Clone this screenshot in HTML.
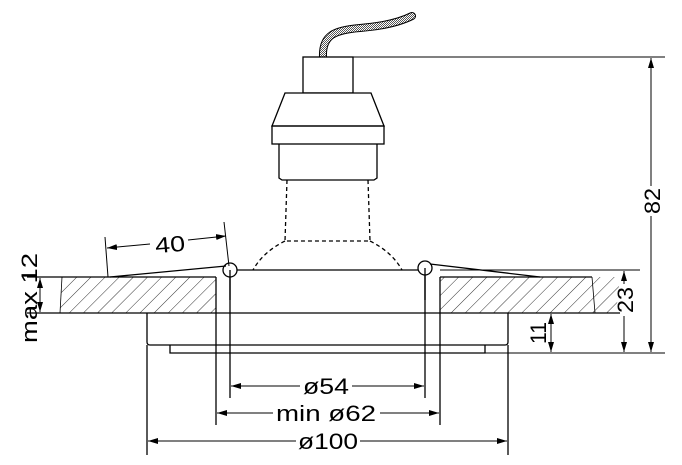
<!DOCTYPE html>
<html><head><meta charset="utf-8"><style>
html,body{margin:0;padding:0;background:#fff;}
svg{display:block}
text{font-family:"Liberation Sans",sans-serif;fill:#000;}
</style></head><body>
<svg width="682" height="465" viewBox="0 0 682 465" xmlns="http://www.w3.org/2000/svg">
<defs>
<pattern id="h" patternUnits="userSpaceOnUse" width="10" height="10" patternTransform="rotate(45)">
<line x1="0" y1="0" x2="0" y2="10" stroke="#000" stroke-width="0.8"/>
</pattern>
<pattern id="c" patternUnits="userSpaceOnUse" width="2" height="2">
<rect width="2" height="2" fill="#fff"/><rect width="1" height="1" fill="#555"/><rect x="1" y="1" width="1" height="1" fill="#555"/>
</pattern>
<marker id="a" viewBox="0 0 10 6" refX="10" refY="3" markerWidth="10" markerHeight="6" orient="auto-start-reverse" markerUnits="userSpaceOnUse">
<path d="M0,0 L10,3 L0,6 z" fill="#000"/>
</marker>
</defs>
<g fill="none" stroke="#000" stroke-width="1.3">
<!-- cable -->
<path d="M323,57 C322,35 335,30 360,28 C385,26 400,22 412,16" stroke="#000" stroke-width="8" stroke-linecap="round"/>
<path d="M323,57 C322,35 335,30 360,28 C385,26 400,22 412,16" stroke="url(#c)" stroke-width="6" stroke-linecap="round"/>
<!-- socket -->
<rect x="303" y="57" width="50" height="36" fill="#fff"/>
<path d="M285,93 L371,93 L384,126 L272,126 Z" fill="#fff"/>
<rect x="272" y="126" width="112" height="18"/>
<path d="M279,144 L279,178 L282,180 L374,180 L377,178 L377,144"/>
<path d="M287,180 L285,241 L370,241 L368,180 M285,241 Q263,252 253,270 M370,241 Q392,252 402,270" stroke-dasharray="4,3"/>
<!-- slabs -->
<path d="M62,277 L216,277 L216,313 L60,313 L62,277 Z" fill="url(#h)" stroke="none"/>
<path d="M440,277 L620,277 L616,313 L440,313 Z" fill="url(#h)" stroke="none"/>
<line x1="27" y1="277" x2="216" y2="277"/>
<line x1="27" y1="313" x2="147" y2="313"/>
<line x1="508" y1="313" x2="620" y2="313"/>
<line x1="216" y1="277" x2="216" y2="313"/>
<line x1="440" y1="277" x2="440" y2="313"/>
<line x1="440" y1="277" x2="592" y2="277"/>
<line x1="62" y1="277" x2="60" y2="313" stroke-width="0.8"/>
<line x1="592" y1="277" x2="595" y2="313" stroke-width="0.8"/>
<!-- trim -->
<path d="M147,313 L147,342 Q147,345 150,345 L505,345 Q508,345 508,342 L508,313"/>
<line x1="147" y1="313" x2="508" y2="313"/>
<path d="M170,345 L170,353 L485,353 L485,345"/>
<!-- lamp body -->
<line x1="230" y1="270" x2="425" y2="270"/>
<line x1="230" y1="270" x2="230" y2="398"/>
<line x1="425" y1="268" x2="425" y2="398"/>
<line x1="216" y1="313" x2="216" y2="425"/>
<line x1="440" y1="313" x2="440" y2="425"/>
<line x1="147" y1="345" x2="147" y2="455"/>
<line x1="508" y1="345" x2="508" y2="455"/>
<circle cx="230" cy="270" r="7" fill="#fff"/>
<circle cx="425" cy="268" r="7" fill="#fff"/>
<line x1="230" y1="270" x2="230" y2="300"/>
<line x1="425" y1="268" x2="425" y2="300"/>
<!-- springs -->
<line x1="110" y1="277" x2="226" y2="266"/>
<line x1="430" y1="264" x2="540" y2="277"/>
<!-- 40 dim -->
<g stroke-width="1">
<line x1="108" y1="277" x2="105" y2="237"/>
<line x1="229" y1="266" x2="224" y2="222"/>
<line x1="107" y1="248" x2="150" y2="244" marker-start="url(#a)"/>
<line x1="188" y1="240" x2="226" y2="236" marker-end="url(#a)"/>
<!-- max 12 -->
<line x1="40" y1="278" x2="40" y2="312" marker-start="url(#a)" marker-end="url(#a)"/>
<!-- 23, 11, 82 -->
<line x1="440" y1="270" x2="640" y2="270"/>
<line x1="353" y1="57" x2="665" y2="57"/>
<line x1="485" y1="353" x2="665" y2="353"/>
<line x1="651" y1="58" x2="651" y2="186" marker-start="url(#a)"/>
<line x1="651" y1="216" x2="651" y2="352" marker-end="url(#a)"/>
<line x1="624" y1="271" x2="624" y2="284" marker-start="url(#a)"/>
<line x1="624" y1="316" x2="624" y2="352" marker-end="url(#a)"/>
<line x1="551" y1="314" x2="551" y2="352" marker-start="url(#a)" marker-end="url(#a)"/>
<!-- bottom dims -->
<line x1="231" y1="386" x2="300" y2="386" marker-start="url(#a)"/>
<line x1="352" y1="386" x2="424" y2="386" marker-end="url(#a)"/>
<line x1="217" y1="413" x2="273" y2="413" marker-start="url(#a)"/>
<line x1="380" y1="413" x2="439" y2="413" marker-end="url(#a)"/>
<line x1="148" y1="441" x2="296" y2="441" marker-start="url(#a)"/>
<line x1="360" y1="441" x2="507" y2="441" marker-end="url(#a)"/>
</g>
</g>
<g font-size="22">
<text x="170" y="252" text-anchor="middle" transform="rotate(-5 170 244)" textLength="30" lengthAdjust="spacingAndGlyphs">40</text>
<text x="326" y="394" text-anchor="middle" textLength="46" lengthAdjust="spacingAndGlyphs">ø54</text>
<text x="326" y="421" text-anchor="middle" textLength="100" lengthAdjust="spacingAndGlyphs">min ø62</text>
<text x="328" y="449" text-anchor="middle" textLength="60" lengthAdjust="spacingAndGlyphs">ø100</text>
<text transform="translate(37,298) rotate(-90)" text-anchor="middle" textLength="90" lengthAdjust="spacingAndGlyphs">max 12</text>
<text transform="translate(660,201) rotate(-90)" text-anchor="middle" textLength="26" lengthAdjust="spacingAndGlyphs">82</text>
<text transform="translate(633,300) rotate(-90)" text-anchor="middle" textLength="26" lengthAdjust="spacingAndGlyphs">23</text>
<text transform="translate(546,333) rotate(-90)" text-anchor="middle" textLength="22" lengthAdjust="spacingAndGlyphs">11</text>
</g>
</svg>
</body></html>
